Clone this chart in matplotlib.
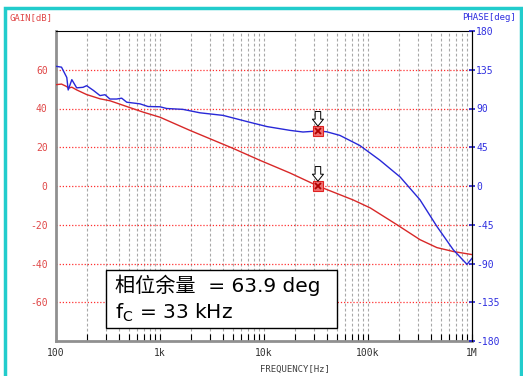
import numpy as np
import matplotlib
matplotlib.use('Agg')
from matplotlib import pyplot as plt
from matplotlib.patches import Rectangle
from matplotlib.ticker import FixedLocator, NullFormatter

# loop gain measurement
gain_freq = [100, 113, 127, 131, 142, 158, 197, 265, 330, 480, 700, 1000,
             1940, 5000, 9100, 17800, 33000, 72000, 105000, 190000, 316000,
             460000, 660000, 1000000]
gain_db = [52.3, 52.6, 51.3, 50.5, 51.0, 49.6, 47.2, 45.0, 44.0, 41.0, 38.0, 35.5,
           28.7, 19.5, 13.3, 6.7, 0.0, -7.2, -11.3, -20.0, -27.7,
           -31.8, -33.8, -35.4]

phase_freq = [100, 113, 127, 131, 142, 158, 182, 197, 229, 265, 296, 330, 383,
              428, 479, 642, 768, 1000, 1160, 1660, 2420, 4040, 7300, 10700,
              17800, 23700, 33000, 40000, 53600, 83500, 130000, 204000, 316000,
              460000, 660000, 895000, 1000000]
phase_deg = [139, 138, 126, 111.5, 123.5, 114, 114.6, 116.5, 111, 105, 106, 101, 101,
             102, 97.3, 95.4, 92.3, 92, 90, 89, 85, 82, 74, 69,
             64.6, 62.7, 63.9, 63, 58.8, 47, 30, 10.4, -16,
             -47, -74, -91, -84]

fc = 33000
phase_margin = 63.9

gain_ticks = [-60, -40, -20, 0, 20, 40, 60]
phase_ticks = [-180, -135, -90, -45, 0, 45, 90, 135, 180]
freq_ticks = [100, 1000, 10000, 100000, 1000000]
freq_labels = ['100', '1k', '10k', '100k', '1M']

RED = '#d82828'
BLUE = '#2828d8'
MONO = 'DejaVu Sans Mono'

fig = plt.figure(figsize=(5.23, 3.76), dpi=100)
W, H = 523, 376

# cyan frame around the whole panel
fig.patches.append(Rectangle((4.5 / W, -0.05), 516 / W, 1.05 - 8 / H,
                             transform=fig.transFigure, fill=False,
                             ec='#22cccc', lw=2.5, zorder=0))

ax = fig.add_axes([56 / W, 35 / H, 416 / W, 310 / H])
ax.set_xscale('log')
ax.set_xlim(100, 1e6)
ax.set_ylim(-80, 80)

ax2 = ax.twinx()
ax2.set_ylim(-180, 180)

# grid
minor = [m * 10 ** e for e in range(2, 6) for m in range(1, 10)][1:]
for f in minor:
    ax.axvline(f, color='#a8a8a8', lw=0.8, ls=(0, (2.5, 2)), zorder=1)
for g in gain_ticks:
    ax.axhline(g, color='#ff3030', lw=0.9, ls=(0, (1, 1.5)), zorder=1)

ax.plot(gain_freq, gain_db, color=RED, lw=1.0, zorder=3)
ax2.plot(phase_freq, phase_deg, color=BLUE, lw=1.0, zorder=3)

# crossover markers
for a, y in ((ax, 0.0), (ax2, phase_margin)):
    a.plot(fc, y, marker='s', ms=7, mfc='#f07070', mec='#e02020', mew=0.8, zorder=5)
    a.plot(fc, y, marker='x', ms=5, mec='#b00000', mew=1.3, zorder=6)
    a.annotate('', xy=(fc, y), xytext=(0, 14), textcoords='offset points',
                arrowprops=dict(arrowstyle='simple,head_length=0.5,head_width=0.8,tail_width=0.4',
                                fc='white', ec='black', lw=0.7, shrinkA=0, shrinkB=3.5),
                zorder=7)

# spines
for s in ('left', 'bottom'):
    ax.spines[s].set_color('#909090')
    ax.spines[s].set_linewidth(2)
for s in ('top', 'right'):
    ax.spines[s].set_color('black')
    ax.spines[s].set_linewidth(0.8)
ax2.spines['right'].set_color('black')
ax2.spines['right'].set_linewidth(0.8)
for s in ('left', 'bottom', 'top'):
    ax2.spines[s].set_visible(False)

ax.set_yticks(gain_ticks)
ax.set_yticklabels([str(g) for g in gain_ticks], color='#e04848', fontsize=7, family=MONO)
ax.tick_params(axis='y', length=0, pad=6)

ax2.set_yticks(phase_ticks)
ax2.set_yticklabels([str(p) for p in phase_ticks], color='#3030e0', fontsize=7, family=MONO)
ax2.tick_params(axis='y', length=4, width=1.2, color='#2020d0', pad=1, direction='inout')

ax.xaxis.set_major_locator(FixedLocator(freq_ticks))
ax.set_xticklabels(freq_labels, fontsize=7, family=MONO, color='#303030')
ax.xaxis.set_minor_locator(FixedLocator(minor))
ax.xaxis.set_minor_formatter(NullFormatter())
ax.tick_params(axis='x', which='both', direction='in', length=5, width=0.8,
               color='black', pad=5)

fig.text(9 / W, 1 - 18 / H, 'GAIN[dB]', color='#e04848', fontsize=6.5, family=MONO, va='center')
fig.text(516 / W, 1 - 18 / H, 'PHASE[deg]', color='#3030e0', fontsize=6.5, family=MONO,
         va='center', ha='right')
fig.text(295 / W, 1 - 369 / H, 'FREQUENCY[Hz]', color='#404040', fontsize=6.5, family=MONO,
         va='center', ha='center')

# result box
fig.patches.append(Rectangle((106 / W, 1 - 328 / H), 231 / W, 58 / H,
                             transform=fig.transFigure, fc='white', ec='black',
                             lw=1.0, zorder=10))
fig.text(115 / W, 1 - 285 / H, f'相位余量  = {phase_margin} deg', fontsize=14.5,
         family=['DejaVu Sans', 'Noto Sans CJK SC'], va='center', zorder=11)
fig.text(115 / W, 1 - 313 / H, r'$\mathrm{f_C}$ = ' + f'{fc // 1000} kHz', fontsize=14.5,
         family=['DejaVu Sans', 'Noto Sans CJK SC'], va='center', zorder=11)

fig.savefig('out.png', dpi=100)
